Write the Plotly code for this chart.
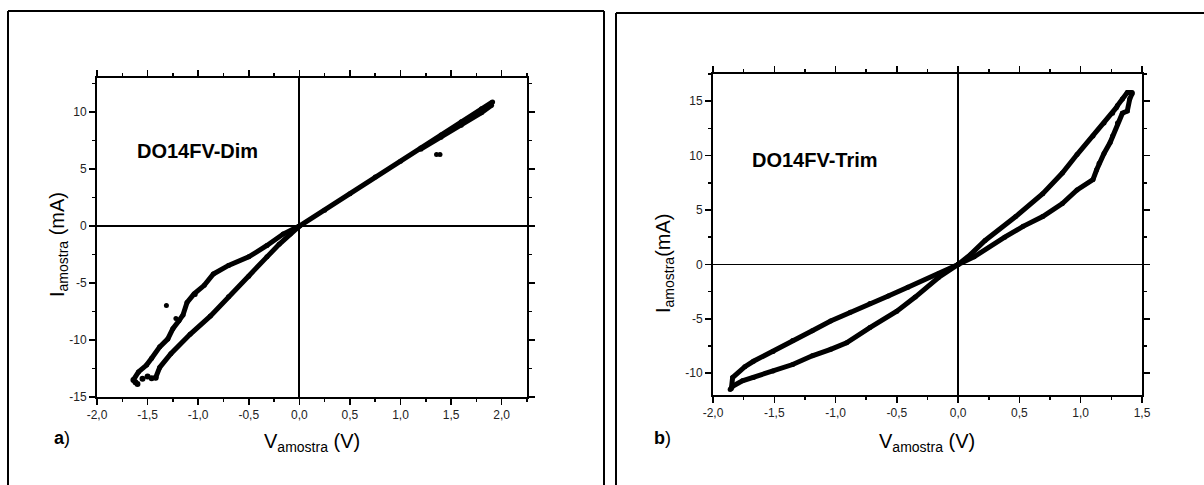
import plotly.graph_objects as go

W, H = 1204, 485
FONT = "Liberation Sans, Arial, sans-serif"

# ---------------- Panel a) DO14FV-Dim ----------------
a_pos_v = [0.0, 0.25, 0.5, 0.75, 1.0, 1.2, 1.4, 1.6, 1.8, 1.91]
a_pos_i = [0.0, 1.4, 2.85, 4.3, 5.7, 6.85, 8.0, 9.15, 10.3, 10.9]
a_pos2_v = [1.2, 1.4, 1.6, 1.8, 1.9]
a_pos2_i = [6.75, 7.8, 8.85, 9.95, 10.6]
a_negl_v = [0.0, -0.09, -0.2, -0.32, -0.5, -0.7, -0.88, -1.08, -1.27, -1.38, -1.42]
a_negl_i = [0.0, -0.7, -1.6, -2.7, -4.4, -6.2, -7.9, -9.5, -11.2, -12.4, -13.3]
a_negu_v = [0.0, -0.16, -0.32, -0.5, -0.7, -0.85, -0.94, -1.04, -1.11, -1.15, -1.19,
            -1.25, -1.30, -1.38, -1.46, -1.51, -1.59, -1.64]
a_negu_i = [0.0, -0.7, -1.7, -2.7, -3.45, -4.2, -5.2, -5.95, -6.7, -7.8, -8.3,
            -9.0, -9.9, -10.6, -11.6, -12.2, -12.8, -13.5]
a_bot_v = [-1.64, -1.62, -1.60, -1.55, -1.50, -1.46, -1.42]
a_bot_i = [-13.5, -13.7, -13.85, -13.4, -13.2, -13.35, -13.3]
a_out_v = [-1.314, -1.03, -1.22, 1.356, 1.39]
a_out_i = [-6.96, -6.0, -8.1, 6.29, 6.29]

# ---------------- Panel b) DO14FV-Trim ----------------
b_posu_v = [0.0, 0.1, 0.22, 0.47, 0.69, 0.85, 0.97, 1.1, 1.19, 1.26, 1.29, 1.30, 1.34, 1.38, 1.42]
b_posu_i = [0.0, 0.9, 2.2, 4.4, 6.5, 8.4, 10.1, 11.8, 13.0, 13.9, 14.4, 14.6, 15.2, 15.8, 15.8]
b_posl_v = [0.0, 0.13, 0.38, 0.53, 0.69, 0.85, 0.97, 1.1, 1.13, 1.15, 1.19, 1.24, 1.26,
            1.30, 1.34, 1.38, 1.40, 1.42]
b_posl_i = [0.0, 0.7, 2.5, 3.5, 4.4, 5.6, 6.85, 7.8, 8.7, 9.3, 10.2, 11.2, 11.8,
            13.0, 13.9, 14.1, 15.2, 15.7]
b_negu_v = [0.0, -0.16, -0.41, -0.57, -0.72, -0.88, -1.04, -1.19, -1.35, -1.51, -1.67,
            -1.74, -1.84, -1.85]
b_negu_i = [0.0, -0.86, -2.1, -2.9, -3.6, -4.4, -5.2, -6.1, -7.0, -8.0, -8.9,
            -9.4, -10.4, -11.4]
b_negl_v = [0.0, -0.16, -0.35, -0.5, -0.72, -0.91, -1.04, -1.19, -1.35, -1.51, -1.67,
            -1.76, -1.84, -1.86]
b_negl_i = [0.0, -1.2, -3.0, -4.3, -5.8, -7.2, -7.8, -8.4, -9.2, -9.8, -10.4,
            -10.7, -11.2, -11.5]

# ---------------- Ticks ----------------
xa_vals = [-2.0, -1.5, -1.0, -0.5, 0.0, 0.5, 1.0, 1.5, 2.0]
xa_text = ["-2,0", "-1,5", "-1,0", "-0,5", "0,0", "0,5", "1,0", "1,5", "2,0"]
xa_minor = [-1.75, -1.25, -0.75, -0.25, 0.25, 0.75, 1.25, 1.75, 2.25]
ya_vals = [-15, -10, -5, 0, 5, 10]
ya_text = ["-15", "-10", "-5", "0", "5", "10"]
ya_minor = [-12.5, -7.5, -2.5, 2.5, 7.5, 12.5]
xb_vals = [-2.0, -1.5, -1.0, -0.5, 0.0, 0.5, 1.0, 1.5]
xb_text = ["-2,0", "-1,5", "-1,0", "-0,5", "0,0", "0,5", "1,0", "1,5"]
xb_minor = [-1.75, -1.25, -0.75, -0.25, 0.25, 0.75, 1.25]
yb_vals = [-10, -5, 0, 5, 10, 15]
yb_text = ["-10", "-5", "0", "5", "10", "15"]
yb_minor = [-7.5, -2.5, 2.5, 7.5, 12.5, 17.5]

fig = go.Figure()

def branch(x, y, xa, ya, w):
    fig.add_trace(go.Scatter(x=x, y=y, mode="lines+markers", xaxis=xa, yaxis=ya,
                             line=dict(color="black", width=w),
                             marker=dict(color="black", size=w),
                             showlegend=False, hoverinfo="skip"))

def dots(x, y, xa, ya, s):
    fig.add_trace(go.Scatter(x=x, y=y, mode="markers", xaxis=xa, yaxis=ya,
                             marker=dict(color="black", size=s),
                             showlegend=False, hoverinfo="skip"))

branch(a_pos_v, a_pos_i, "x", "y", 5)
branch(a_pos2_v, a_pos2_i, "x", "y", 5)
branch(a_negl_v, a_negl_i, "x", "y", 5)
branch(a_negu_v, a_negu_i, "x", "y", 5)
dots(a_bot_v, a_bot_i, "x", "y", 6)
dots(a_out_v, a_out_i, "x", "y", 5)

branch(b_posu_v, b_posu_i, "x2", "y2", 5)
branch(b_posl_v, b_posl_i, "x2", "y2", 5)
branch(b_negu_v, b_negu_i, "x2", "y2", 5)
branch(b_negl_v, b_negl_i, "x2", "y2", 5)

def axis(domain, rng, vals, text, minor, anchor, zw):
    return dict(domain=domain, range=rng, anchor=anchor, automargin=False,
                tickmode="array", tickvals=vals, ticktext=text,
                ticks="outside", ticklen=6, tickwidth=1.5, tickcolor="black",
                minor=dict(tickmode="array", tickvals=minor, ticks="outside",
                           ticklen=3, tickwidth=1.5, tickcolor="black", showgrid=False),
                showline=True, linecolor="black", linewidth=2, mirror="allticks",
                showgrid=False, zeroline=True, zerolinecolor="black", zerolinewidth=zw,
                tickfont=dict(family=FONT, size=12, color="#222222"),
                fixedrange=True)

def px(v):
    return v / W

def py(v):
    return 1 - v / H

fig.update_layout(
    template="none",
    width=W, height=H, autosize=False,
    margin=dict(l=0, r=0, t=0, b=0, pad=0),
    paper_bgcolor="white", plot_bgcolor="white",
    font=dict(family=FONT, color="black"),
    xaxis=axis([px(97), px(527)], [-2.0, 2.25], xa_vals, xa_text, xa_minor, "y", 2),
    yaxis=axis([py(397), py(78)], [-15, 13], ya_vals, ya_text, ya_minor, "x", 2),
    xaxis2=axis([px(713), px(1142)], [-2.0, 1.5], xb_vals, xb_text, xb_minor, "y2", 1.5),
    yaxis2=axis([py(395), py(74)], [-12, 17.5], yb_vals, yb_text, yb_minor, "x2", 1.5),
    hovermode=False,
)

# outer frames (left, top, right sides; bottom lies outside the page)
for (x0, x1, yt) in [(8, 604, 11), (616, 1210, 13)]:
    fig.add_shape(type="line", xref="paper", yref="paper", x0=px(x0), x1=px(x0),
                  y0=py(yt), y1=-0.1, line=dict(color="black", width=2))
    fig.add_shape(type="line", xref="paper", yref="paper", x0=px(x0), x1=px(x1),
                  y0=py(yt), y1=py(yt), line=dict(color="black", width=2))
    fig.add_shape(type="line", xref="paper", yref="paper", x0=px(x1), x1=px(x1),
                  y0=py(yt), y1=-0.1, line=dict(color="black", width=2))

ann = []
# sample names
ann.append(dict(text="<b>DO14FV-Dim</b>", x=-1.01, y=6.63, xref="x", yref="y",
                showarrow=False, font=dict(family=FONT, size=20, color="black")))
ann.append(dict(text="<b>DO14FV-Trim</b>", x=-1.165, y=9.6, xref="x2", yref="y2",
                showarrow=False, font=dict(family=FONT, size=20, color="black")))
# x titles
for cx in (312, 927):
    ann.append(dict(text="V<sub>amostra</sub> (V)", x=px(cx), y=py(428), xref="paper", yref="paper",
                    xanchor="center", yanchor="top", showarrow=False,
                    font=dict(family=FONT, size=20, color="black")))
# y titles
ann.append(dict(text="I<sub>amostra</sub> (mA)", x=px(58), y=py(245), xref="paper", yref="paper",
                xanchor="center", yanchor="middle", textangle=-90, showarrow=False,
                font=dict(family=FONT, size=20, color="black")))
ann.append(dict(text="I<sub>amostra</sub>(mA)", x=px(664), y=py(263), xref="paper", yref="paper",
                xanchor="center", yanchor="middle", textangle=-90, showarrow=False,
                font=dict(family=FONT, size=20, color="black")))
# panel letters
ann.append(dict(text="<b>a</b>)", x=px(52), y=py(438), xref="paper", yref="paper",
                xanchor="left", yanchor="middle", showarrow=False,
                font=dict(family=FONT, size=18, color="black")))
ann.append(dict(text="<b>b</b>)", x=px(652), y=py(438), xref="paper", yref="paper",
                xanchor="left", yanchor="middle", showarrow=False,
                font=dict(family=FONT, size=18, color="black")))
fig.update_layout(annotations=ann)

fig.write_html("out.html",
               config=dict(displayModeBar=False, staticPlot=True),
               post_script="document.body.style.margin='0px';"
                           "document.body.style.overflow='hidden';")
